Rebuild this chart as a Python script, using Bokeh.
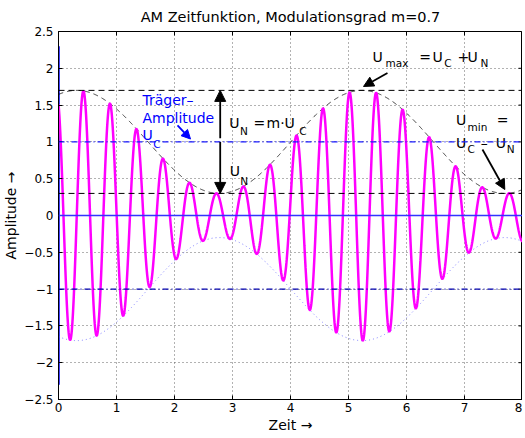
import numpy as np
from bokeh.plotting import figure
from bokeh.models import Arrow, NormalHead, Span, FixedTicker, Range1d
from bokeh.core.properties import value
from bokeh.embed import file_html
from bokeh.resources import INLINE

# ---------------- data ----------------
title_text = "AM Zeitfunktion, Modulationsgrad m=0.7"
x_label = "Zeit \u2192"
y_label = "Amplitude \u2192"
x_ticks = [0, 1, 2, 3, 4, 5, 6, 7, 8]
y_ticks = [-2.5, -2, -1.5, -1, -0.5, 0, 0.5, 1, 1.5, 2, 2.5]
y_tick_labels = ["\u22122.5", "\u22122", "\u22121.5", "\u22121", "\u22120.5",
                 "0", "0.5", "1", "1.5", "2", "2.5"]

t_start, t_end = 0.0, 8.0
y_low, y_high = -2.5, 2.5
U_C = 1.0                      # carrier amplitude
m = 0.7                        # modulation depth
U_N = m * U_C
U_max = U_C + U_N
U_min = U_C - U_N
carrier_period = 0.4588        # read from peak spacing
carrier_peak_time = 0.4296     # first carrier maximum
mod_period = 4.92              # envelope period
mod_peak_time = 0.314          # first envelope maximum
n_samples = 1601

t = np.linspace(t_start, t_end, n_samples)
envelope = U_C * (1 + m * np.cos(2 * np.pi * (t - mod_peak_time) / mod_period))
carrier = np.cos(2 * np.pi * (t - carrier_peak_time) / carrier_period)
signal = envelope * carrier

FONT = "DejaVu Sans"

p = figure(frame_width=464, frame_height=368,
           x_range=Range1d(t_start, t_end), y_range=Range1d(y_low, y_high),
           output_backend="svg", toolbar_location=None,
           min_border_left=53, min_border_right=0,
           min_border_top=24, min_border_bottom=38,
           title=title_text,
           styles={"position": "absolute", "top": "0px", "left": "0px"})

p.background_fill_color = "white"
p.border_fill_color = "white"
p.outline_line_color = "black"
p.outline_line_width = 1
p.outline_line_alpha = 1

p.title.align = "center"
p.title.text_font = FONT
p.title.text_font_size = "14.5px"
p.title.text_font_style = "normal"
p.title.text_color = "black"
p.title.standoff = 13

p.xaxis.ticker = FixedTicker(ticks=x_ticks)
p.yaxis.ticker = FixedTicker(ticks=y_ticks)
p.yaxis.major_label_overrides = dict(zip(y_ticks, y_tick_labels))
p.xaxis.axis_label = x_label
p.yaxis.axis_label = y_label
for ax in (p.xaxis, p.yaxis):
    ax.major_tick_in = 4
    ax.major_tick_out = 0
    ax.minor_tick_line_color = None
    ax.axis_line_color = "black"
    ax.major_tick_line_color = "black"
    ax.major_label_text_font = FONT
    ax.major_label_text_font_size = "12px"
    ax.major_label_text_color = "black"
    ax.axis_label_text_font = FONT
    ax.axis_label_text_font_size = "14px"
    ax.axis_label_text_font_style = "normal"
    ax.axis_label_text_color = "black"
p.xaxis.major_label_standoff = 3
p.xaxis.axis_label_standoff = 2
p.yaxis.major_label_standoff = 5
p.yaxis.axis_label_standoff = 2

for g, tk in ((p.xgrid, x_ticks), (p.ygrid, y_ticks)):
    g.ticker = FixedTicker(ticks=tk)
    g.grid_line_color = "#555555"
    g.grid_line_dash = "1 3"
    g.grid_line_width = 1
    g.grid_line_alpha = 0.9

# inward tick marks on the top and right frame edges (half clipped by the frame)
p.scatter(x=x_ticks, y=[y_high] * len(x_ticks), marker="dash", size=8,
          angle=np.pi / 2, line_color="black", line_width=1)
p.scatter(x=[t_end] * len(y_ticks), y=y_ticks, marker="dash", size=8,
          line_color="black", line_width=1)

# reference lines
p.add_layout(Span(location=U_max, dimension="width", line_color="black",
                  line_dash="6 4", line_width=1))
p.add_layout(Span(location=U_min, dimension="width", line_color="black",
                  line_dash="6 4", line_width=1))
p.add_layout(Span(location=U_C, dimension="width", line_color="#1a1aff",
                  line_dash="6 3 1 3", line_width=1.2))
p.add_layout(Span(location=-U_C, dimension="width", line_color="#0000b0",
                  line_dash="6 3 1 3", line_width=1.2))
p.add_layout(Span(location=0, dimension="width", line_color="#3333ff",
                  line_width=1.6))
p.line(x=[0, 0], y=[-2.3, 2.3], line_color="#0000ff", line_width=2.5)

# envelopes
p.line(t, envelope, line_color="black", line_dash="5 4", line_width=0.8)
p.line(t, -envelope, line_color="#7777ff", line_dash="1 3", line_width=1)

# AM signal
p.line(t, signal, line_color="#ff00ff", line_width=2.5)


def txt(x, y, s, size=14, color="black"):
    p.text(x=[x], y=[y], text=[s], text_font=value(FONT),
           text_font_size=value(f"{size}px"), text_color=color,
           text_align="left", text_baseline="alphabetic")


SUB = 10.5
# Traeger-Amplitude U_C
txt(1.448, 1.576, "Tr\u00e4ger\u2013", color="#0000ff")
txt(1.448, 1.318, "Amplitude", color="#0000ff")
txt(1.448, 1.100, "U", color="#0000ff")
txt(1.633, 0.978, "C", SUB, color="#0000ff")
p.add_layout(Arrow(end=NormalHead(size=9, fill_color="#0000ff", line_color="#0000ff"),
                   x_start=2.052, y_start=1.223, x_end=2.276, y_end=1.039,
                   line_color="#0000ff", line_width=1.8))

# U_N = m*U_C  (double arrow)
p.add_layout(Arrow(end=NormalHead(size=11, fill_color="black", line_color="black"),
                   x_start=2.788, y_start=1.05, x_end=2.788, y_end=U_max,
                   line_color="black", line_width=1.8))
p.add_layout(Arrow(end=NormalHead(size=11, fill_color="black", line_color="black"),
                   x_start=2.788, y_start=1.0, x_end=2.788, y_end=U_min,
                   line_color="black", line_width=1.8))
txt(2.943, 1.26, "U")
txt(3.129, 1.148, "N", SUB)
txt(3.362, 1.26, "=")
txt(3.586, 1.26, "m\u00b7U")
txt(4.150, 1.145, "C", SUB)

txt(2.953, 0.602, "U")
txt(3.133, 0.466, "N", SUB)

# U_max = U_C + U_N
txt(5.414, 2.156, "U")
txt(5.638, 2.072, "max", SUB)
txt(6.219, 2.156, "=")
txt(6.448, 2.156, "U")
txt(6.650, 2.072, "C", SUB)
txt(6.879, 2.156, "+")
txt(7.052, 2.156, "U")
txt(7.276, 2.072, "N", SUB)
p.add_layout(Arrow(end=NormalHead(size=10, fill_color="black", line_color="black"),
                   x_start=5.672, y_start=1.936, x_end=5.259, y_end=1.753,
                   line_color="black", line_width=1.8))

# U_min = U_C - U_N
txt(6.853, 1.295, "U")
txt(7.052, 1.205, "min", SUB)
txt(7.557, 1.295, "=")
txt(6.853, 0.988, "U")
txt(7.052, 0.897, "C", SUB)
txt(7.281, 0.988, "\u2013")
txt(7.540, 0.988, "U")
txt(7.729, 0.897, "N", SUB)
p.add_layout(Arrow(end=NormalHead(size=10, fill_color="black", line_color="black"),
                   x_start=7.310, y_start=0.897, x_end=7.695, y_end=0.353,
                   line_color="black", line_width=1.8))

open("out.html", "w").write(file_html(p, INLINE))
